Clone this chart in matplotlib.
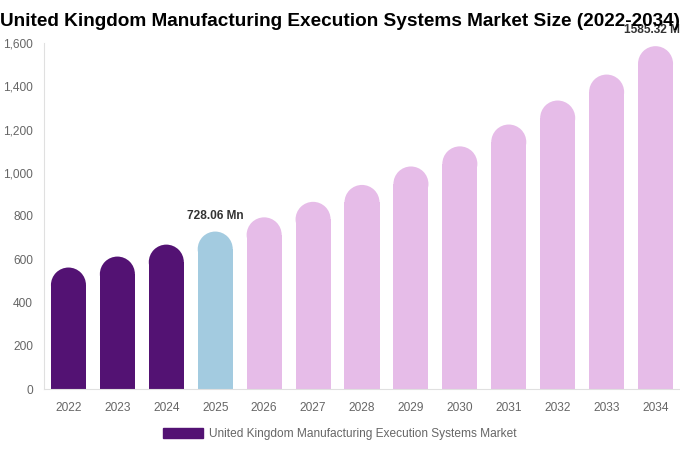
import matplotlib.pyplot as plt
from matplotlib.patches import Ellipse, Patch

plt.rcParams['font.family'] = ['Liberation Sans', 'DejaVu Sans']

# === Data ===
years = ["2022", "2023", "2024", "2025", "2026", "2027", "2028",
         "2029", "2030", "2031", "2032", "2033", "2034"]
values = [561.7, 612.4, 667.7, 728.06, 793.8, 865.5, 943.7,
          1029.0, 1122.0, 1223.0, 1334.0, 1454.0, 1585.32]
colors = ["#531273"] * 3 + ["#a3cbe0"] + ["#e6bce8"] * 9
labels = {3: "728.06 Mn", 12: "1585.32 Mn"}
y_ticks = [0, 200, 400, 600, 800, 1000, 1200, 1400, 1600]

# === Figure ===
fig = plt.figure(figsize=(6.8, 4.5), dpi=100)
ax = fig.add_axes([44 / 680, 61 / 450, 636 / 680, 346 / 450])
ax.set_xlim(-0.5, len(years) - 0.5)
ax.set_ylim(0, 1600)

# rounded tops: ellipse sized so it looks like a half circle on screen
bw = 0.716
ax_w = 636 / len(years)          # px per x unit
ax_h = 346 / 1600                # px per y unit
r_px = bw * ax_w / 2
r_y = r_px / ax_h

for i, (v, c) in enumerate(zip(values, colors)):
    ax.bar(i, v - r_y, width=bw, color=c, linewidth=0)
    ax.add_patch(Ellipse((i, v - r_y), bw, 2 * r_y, color=c, linewidth=0))
    if i in labels:
        ax.text(i, v + 45, labels[i], ha="center", va="bottom",
                fontsize=8.6, fontweight="bold", color="#333333", clip_on=False)

ax.set_xticks(range(len(years)))
ax.set_xticklabels(years)
ax.set_yticks(y_ticks)
ax.set_yticklabels([f"{t:,}" for t in y_ticks])
ax.tick_params(axis="both", length=0, labelsize=8.6, colors="#666666")
ax.tick_params(axis="x", pad=9.5)
ax.tick_params(axis="y", pad=8)

for s in ["top", "right"]:
    ax.spines[s].set_visible(False)
ax.spines["left"].set_color("#e0e0e0")
ax.spines["bottom"].set_color("#e0e0e0")

fig.text(0.0, 1 - 21 / 450,
         "United Kingdom Manufacturing Execution Systems Market Size (2022-2034)",
         ha="left", va="center", fontsize=13.7, fontweight="bold", color="#000000")

handle = Patch(color="#531273")
fig.legend([handle], ["United Kingdom Manufacturing Execution Systems Market"],
           loc="center", bbox_to_anchor=(0.5, 1 - 434 / 450), frameon=False,
           fontsize=8.6, labelcolor="#666666", handlelength=3.3, handleheight=1.0,
           handletextpad=0.5)

fig.savefig("out.png", dpi=100)
